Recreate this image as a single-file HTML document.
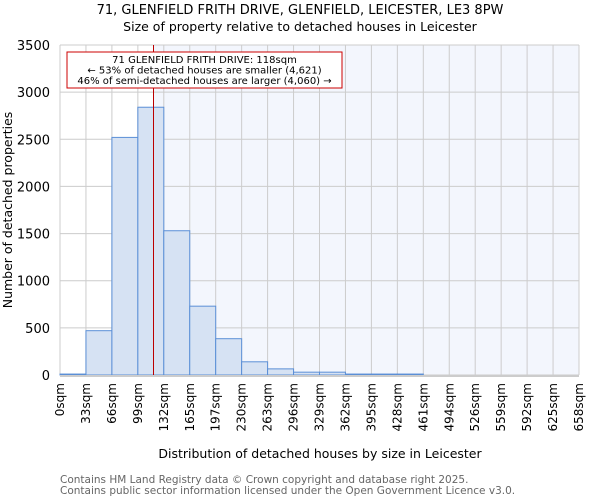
<!DOCTYPE html>
<html><head><meta charset="utf-8"><style>
body{margin:0;background:#fff;font-family:"DejaVu Sans","Liberation Sans",sans-serif}
svg text{font-family:"DejaVu Sans","Liberation Sans",sans-serif}
</style></head><body>
<svg id="chart" width="600" height="500" xmlns="http://www.w3.org/2000/svg">
<text x="300" y="14" text-anchor="middle" font-size="13">71, GLENFIELD FRITH DRIVE, GLENFIELD, LEICESTER, LE3 8PW</text>
<text x="300" y="31" text-anchor="middle" font-size="12.5">Size of property relative to detached houses in Leicester</text>
<g id="plot"></g>
<text x="320" y="458" text-anchor="middle" font-size="12.5">Distribution of detached houses by size in Leicester</text>
<text transform="translate(12,210) rotate(-90)" text-anchor="middle" font-size="12.5">Number of detached properties</text>
<text x="60" y="483" font-size="10.5" fill="#666">Contains HM Land Registry data © Crown copyright and database right 2025.</text>
<text x="60" y="494" font-size="10.5" fill="#666">Contains public sector information licensed under the Open Government Licence v3.0.</text>
</svg>
<script>
const binLabels=["0sqm","33sqm","66sqm","99sqm","132sqm","165sqm","197sqm","230sqm","263sqm","296sqm","329sqm","362sqm","395sqm","428sqm","461sqm","494sqm","526sqm","559sqm","592sqm","625sqm","658sqm"];
const counts=[10,470,2520,2840,1530,730,385,140,65,30,30,10,10,10,0,0,0,0,0,0];
const yTicks=[0,500,1000,1500,2000,2500,3000,3500];
const propertySize=118;
const binWidthSqm=32.9;
const NS="http://www.w3.org/2000/svg";
const L=60,R=579,T=45,B=375,yMax=3500;
const nb=counts.length;
const bw=(R-L)/nb;
const xs=v=>L+v/(binWidthSqm*nb)*(R-L);
const xi=i=>L+i*bw;
const ys=v=>B-v/yMax*(B-T);
const g=document.getElementById('plot');
function mk(t,a){const e=document.createElementNS(NS,t);for(const k in a)e.setAttribute(k,a[k]);g.appendChild(e);return e;}
const px=Math.round(xs(propertySize))+0.5;
let bg=mk('rect',{x:L,y:T,width:px-L,height:B-T,fill:'#ffffff'});


bg=mk('rect',{x:px,y:T,width:R-px,height:B-T,fill:'#f3f6fd'});


yTicks.forEach(v=>{
 const l=mk('line',{x1:L,x2:R,y1:ys(v),y2:ys(v),stroke:'#cccccc','stroke-width':1});
 
 
 const t=mk('text',{x:L-10,y:ys(v)+5,'text-anchor':'end','font-size':13});
 
 
 t.textContent=v;
});
binLabels.forEach((s,i)=>{
 const l=mk('line',{x1:xi(i),x2:xi(i),y1:T,y2:B,stroke:'#cccccc','stroke-width':1});
 
 
 const t=mk('text',{transform:`translate(${xi(i)+4},383) rotate(-90)`,'text-anchor':'end','font-size':12});
 
 
 t.textContent=s;
});
counts.forEach((c,i)=>{
 if(c<=0)return;
 const r=mk('rect',{x:xi(i),y:ys(c),width:bw,height:B-ys(c),fill:'#d6e2f3',stroke:'#5b8fd6','stroke-width':1});
 
 
});
const ax=mk('line',{x1:L,x2:R,y1:B+1,y2:B+1,stroke:'#cccccc','stroke-width':2});


const ml=mk('line',{x1:px,x2:px,y1:T,y2:B,stroke:'#bb0000','stroke-width':1});


const box=mk('rect',{x:67,y:52,width:275,height:36,fill:'#fff',stroke:'#cc0000','stroke-width':1});


["71 GLENFIELD FRITH DRIVE: 118sqm","← 53% of detached houses are smaller (4,621)","46% of semi-detached houses are larger (4,060) →"].forEach((s,i)=>{
 const t=mk('text',{x:204.5,y:63+i*10.5,'text-anchor':'middle','font-size':10});
 
 
 t.textContent=s;
});
</script>
</body></html>
